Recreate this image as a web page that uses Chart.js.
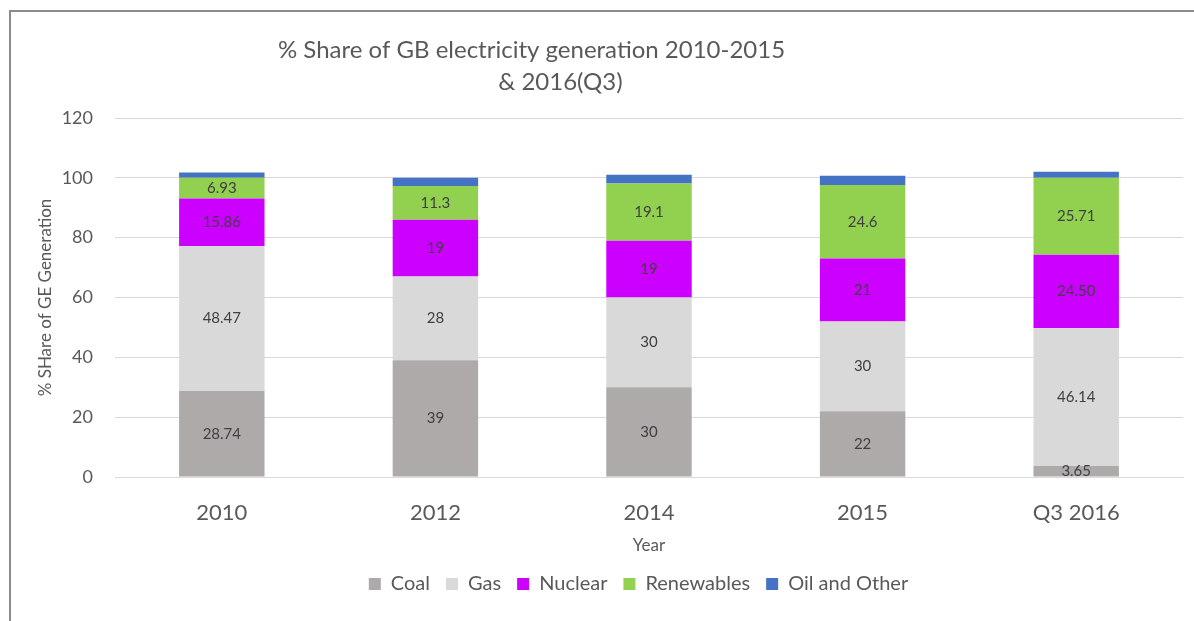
<!DOCTYPE html>
<html>
<head>
<meta charset="utf-8">
<script src="https://cdn.jsdelivr.net/npm/chart.js@4.4.1/dist/chart.umd.min.js"></script>
<style>
  body { margin: 0; background: #fff; }
  #frame { position: absolute; left: 9px; top: 10px; width: 1300px; height: 700px; border: 2px solid #8c8c8c; }
  #wrap { position: absolute; left: 0; top: 0; width: 1194px; height: 621px; }
</style>
</head>
<body>
<div id="frame"></div>
<div id="wrap"><canvas id="myChart1"></canvas></div>
<script>
// chart data
const years = ['2010', '2012', '2014', '2015', 'Q3 2016'];
const coal = [28.74, 39, 30, 22, 3.65];
const gas = [48.47, 28, 30, 30, 46.14];
const nuclear = [15.86, 19, 19, 21, '24.50'];
const renewables = [6.93, 11.3, 19.1, 24.6, 25.71];
const oil_other = [1.8, 2.7, 2.9, 3.1, 2.0];
const title_lines = ['% Share of GB electricity generation 2010-2015', '& 2016(Q3)'];

const FONT = 'Lato';
const GREY = '#595959';

// labels in the middle of every segment except oil
const bar_labels = {
    id: 'bar_labels',
    afterDatasetsDraw(chart) {
        const ctx = chart.ctx;
        ctx.save();
        ctx.font = '15px ' + FONT;
        ctx.fillStyle = '#404040';
        ctx.textAlign = 'center';
        ctx.textBaseline = 'middle';
        chart.data.datasets.forEach((ds, i) => {
            if (ds.label == 'Oil and Other') return;
            chart.getDatasetMeta(i).data.forEach((bar, j) => {
                ctx.fillText(String(ds.data[j]), bar.x, (bar.y + bar.base) / 2);
            });
        });
        ctx.restore();
    }
};

// two line title, excel puts the lines a bit off centre
const title_plugin = {
    id: 'title_plugin',
    afterLayout(chart) {
        // legend sits a bit right of the canvas centre in the original
        chart.legend.left += 47;
        chart.legend.right += 47;
    },
    afterDraw(chart) {
        const ctx = chart.ctx;
        const a = chart.chartArea;
        ctx.save();
        ctx.font = '24px ' + FONT;
        ctx.fillStyle = GREY;
        ctx.textAlign = 'center';
        ctx.textBaseline = 'middle';
        ctx.fillText(title_lines[0], a.left + (a.right - a.left) * 0.39, 50);
        ctx.fillText(title_lines[1], a.left + (a.right - a.left) * 0.417, 82);
        ctx.restore();
    }
};

function make_set(label, data, color) {
    return {
        label: label,
        data: data,
        backgroundColor: color,
        borderWidth: 0,
        barPercentage: 0.4,
        categoryPercentage: 1.0
    };
}

const ctx = document.getElementById('myChart1').getContext('2d');
const chart1 = new Chart(ctx, {
    type: 'bar',
    data: {
        labels: years,
        datasets: [
            make_set('Coal', coal, '#aeaaaa'),
            make_set('Gas', gas, '#d9d9d9'),
            make_set('Nuclear', nuclear, '#cc00ff'),
            make_set('Renewables', renewables, '#92d050'),
            make_set('Oil and Other', oil_other, '#4472c4')
        ]
    },
    options: {
        responsive: true,
        maintainAspectRatio: false,
        animation: false,
        layout: { padding: { left: 0, top: 118, right: 11, bottom: 17 } },
        plugins: {
            title: { display: false },
            tooltip: { enabled: false },
            legend: {
                position: 'bottom',
                labels: {
                    color: GREY,
                    font: { family: FONT, size: 20 },
                    boxWidth: 12,
                    boxHeight: 12,
                    padding: 16
                }
            }
        },
        scales: {
            x: {
                stacked: true,
                grid: { display: false },
                border: { color: '#d9d9d9' },
                ticks: { color: GREY, font: { family: FONT, size: 22 }, padding: 15 },
                title: { display: true, text: 'Year', color: GREY, font: { family: FONT, size: 17 }, padding: { top: 0, bottom: 2 } },
                afterFit: (s) => { s.height = 81; }
            },
            y: {
                stacked: true,
                min: 0,
                max: 120,
                ticks: { stepSize: 20, color: GREY, font: { family: FONT, size: 18 }, padding: 22 },
                grid: { color: '#d9d9d9', drawTicks: false },
                border: { display: false },
                title: { display: true, text: '% SHare of GE Generation', color: GREY, font: { family: FONT, size: 17 }, padding: { top: 35, bottom: 0 } },
                afterFit: (s) => { s.width = 115; }
            }
        }
    },
    plugins: [bar_labels, title_plugin]
});
</script>
</body>
</html>
